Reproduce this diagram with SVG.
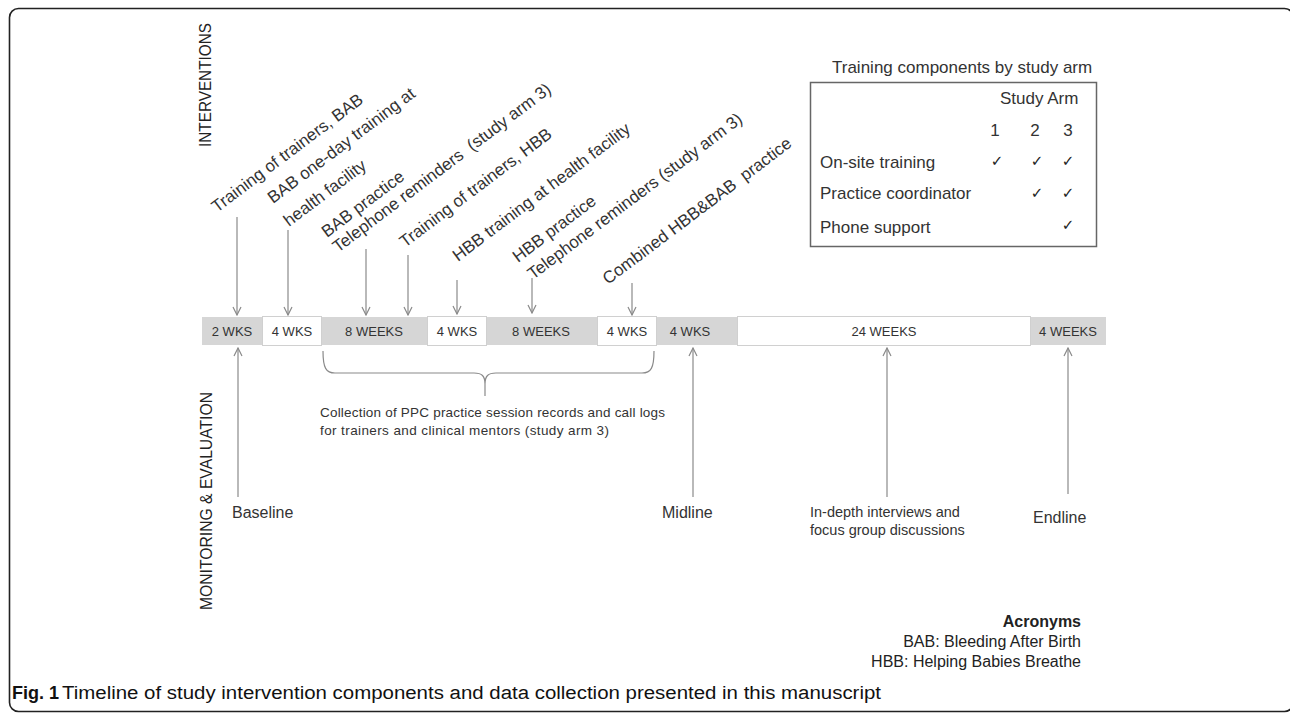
<svg xmlns="http://www.w3.org/2000/svg" width="1290" height="717" viewBox="0 0 1290 717">
<defs>
<marker id="ah" viewBox="0 0 10 10" refX="9" refY="5" markerWidth="10" markerHeight="10" markerUnits="userSpaceOnUse" orient="auto"><path d="M1,1 L9,5 L1,9" fill="none" stroke="#8a8a8a" stroke-width="1.2"/></marker>
</defs>
<style>
text{font-family:"Liberation Sans",Arial,sans-serif;fill:#333}
.lbl{font-size:17px;white-space:pre}
.side{font-size:16.5px;text-anchor:middle;fill:#222}
.seg{font-size:13px;text-anchor:middle}
.tb{font-size:17px}
.mon{font-size:16px}
.g{fill:#d6d6d6}
.w{fill:#fff;stroke:#d0d0d0;stroke-width:1}
.conn line,.conn path{stroke:#8a8a8a;stroke-width:1.2;fill:none}
.ck{font-family:"DejaVu Sans",sans-serif;font-size:15px;text-anchor:middle;fill:#222}
.acr{font-size:16px;text-anchor:end;fill:#222}
.cap{font-size:18px;fill:#111}
</style>
<rect x="9.5" y="8.5" width="1284" height="703" rx="9" fill="none" stroke="#222" stroke-width="1.6"/>

<g id="section-labels">
<text class="side" transform="translate(211,85) rotate(-90)" textLength="124" lengthAdjust="spacingAndGlyphs">INTERVENTIONS</text>
<text class="side" transform="translate(212,501) rotate(-90)" textLength="218" lengthAdjust="spacingAndGlyphs">MONITORING &amp; EVALUATION</text>
</g>

<g id="n-tot-bab"><text class="lbl" transform="translate(217,213) rotate(-37)">Training of trainers, BAB</text></g>
<g id="n-bab-oneday"><text class="lbl" transform="translate(273,204) rotate(-37)"><tspan x="0" y="0">BAB one-day training at</tspan><tspan x="-1" y="28">health facility</tspan></text></g>
<g id="n-bab-practice"><text class="lbl" transform="translate(327,238) rotate(-37)">BAB practice</text></g>
<g id="n-tel1"><text class="lbl" transform="translate(338,253) rotate(-37)">Telephone reminders  (study arm 3)</text></g>
<g id="n-tot-hbb"><text class="lbl" transform="translate(405,248) rotate(-37)">Training of trainers, HBB</text></g>
<g id="n-hbb-training"><text class="lbl" transform="translate(458,262) rotate(-37)">HBB training at health facility</text></g>
<g id="n-hbb-practice"><text class="lbl" transform="translate(518,263) rotate(-37)">HBB practice</text></g>
<g id="n-tel2"><text class="lbl" transform="translate(533,280) rotate(-37)">Telephone reminders (study arm 3)</text></g>
<g id="n-combined"><text class="lbl" transform="translate(608,285) rotate(-37)">Combined HBB&amp;BAB  practice</text></g>

<g id="n-timeline">
<rect class="g" x="202" y="317" width="60" height="28"/>
<rect class="w" x="262.5" y="316.5" width="59" height="29"/>
<rect class="g" x="322" y="317" width="105" height="28"/>
<rect class="w" x="427.5" y="316.5" width="59" height="29"/>
<rect class="g" x="487" y="317" width="110" height="28"/>
<rect class="w" x="597.5" y="316.5" width="59" height="29"/>
<rect class="g" x="657" y="317" width="80" height="28"/>
<rect class="w" x="737.5" y="316.5" width="293" height="29"/>
<rect class="g" x="1031" y="317" width="75" height="28"/>
<text class="seg" x="232" y="336">2 WKS</text>
<text class="seg" x="292" y="336">4 WKS</text>
<text class="seg" x="374" y="336">8 WEEKS</text>
<text class="seg" x="457" y="336">4 WKS</text>
<text class="seg" x="541" y="336">8 WEEKS</text>
<text class="seg" x="627" y="336">4 WKS</text>
<text class="seg" x="690" y="336">4 WKS</text>
<text class="seg" x="884" y="336">24 WEEKS</text>
<text class="seg" x="1068" y="336">4 WEEKS</text>
</g>

<g id="n-table">
<text class="tb" x="832" y="73">Training components by study arm</text>
<rect x="810.5" y="82.5" width="286" height="164" fill="none" stroke="#666" stroke-width="1.5"/>
<text class="tb" x="1000" y="104">Study Arm</text>
<text class="tb" x="995" y="136" text-anchor="middle">1</text>
<text class="tb" x="1035" y="136" text-anchor="middle">2</text>
<text class="tb" x="1068" y="136" text-anchor="middle">3</text>
<text class="tb" x="820" y="168">On-site training</text>
<text class="tb" x="820" y="199">Practice coordinator</text>
<text class="tb" x="820" y="233">Phone support</text>
<text class="ck" x="997" y="166">✓</text>
<text class="ck" x="1037" y="166">✓</text>
<text class="ck" x="1068" y="166">✓</text>
<text class="ck" x="1037" y="198">✓</text>
<text class="ck" x="1068" y="198">✓</text>
<text class="ck" x="1068" y="230">✓</text>
</g>

<g id="n-baseline"><text class="mon" x="232" y="518">Baseline</text></g>
<g id="n-midline"><text class="mon" x="662" y="518">Midline</text></g>
<g id="n-endline"><text class="mon" x="1033" y="523">Endline</text></g>
<g id="n-interviews"><text font-size="14.5" x="810" y="517">In-depth interviews and</text><text font-size="14.5" x="810" y="535">focus group discussions</text></g>
<g id="n-collection"><text font-size="13.5" x="320" y="417" textLength="345">Collection of PPC practice session records and call logs</text><text font-size="13.5" x="320" y="435" textLength="289">for trainers and clinical mentors (study arm 3)</text></g>

<g id="n-acronyms">
<text class="acr" x="1081" y="627" font-weight="bold">Acronyms</text>
<text class="acr" x="1081" y="647">BAB: Bleeding After Birth</text>
<text class="acr" x="1081" y="667">HBB: Helping Babies Breathe</text>
</g>

<g id="caption">
<text class="cap" x="12" y="699" font-weight="bold">Fig. 1</text>
<text class="cap" x="62" y="699" textLength="819" lengthAdjust="spacingAndGlyphs">Timeline of study intervention components and data collection presented in this manuscript</text>
</g>

<g class="conn" id="connectors">
<line x1="237" y1="217" x2="237" y2="315" marker-end="url(#ah)"/>
<line x1="288" y1="230" x2="288" y2="315" marker-end="url(#ah)"/>
<line x1="366" y1="249" x2="366" y2="315" marker-end="url(#ah)"/>
<line x1="408" y1="255" x2="408" y2="315" marker-end="url(#ah)"/>
<line x1="457" y1="280" x2="457" y2="314" marker-end="url(#ah)"/>
<line x1="532" y1="278" x2="532" y2="313" marker-end="url(#ah)"/>
<line x1="632" y1="283" x2="632" y2="315" marker-end="url(#ah)"/>
<line x1="238" y1="497" x2="238" y2="348" marker-end="url(#ah)"/>
<line x1="693" y1="497" x2="693" y2="348" marker-end="url(#ah)"/>
<line x1="887" y1="497" x2="887" y2="348" marker-end="url(#ah)"/>
<line x1="1068" y1="494" x2="1068" y2="348" marker-end="url(#ah)"/>
<path d="M323,351 C323,368 326,373 335,373 L474,373 C482,373 485,376 485,384 L485,396 M485,384 C485,376 488,373 496,373 L642,373 C651,373 654,368 654,351"/>
</g>
</svg>
